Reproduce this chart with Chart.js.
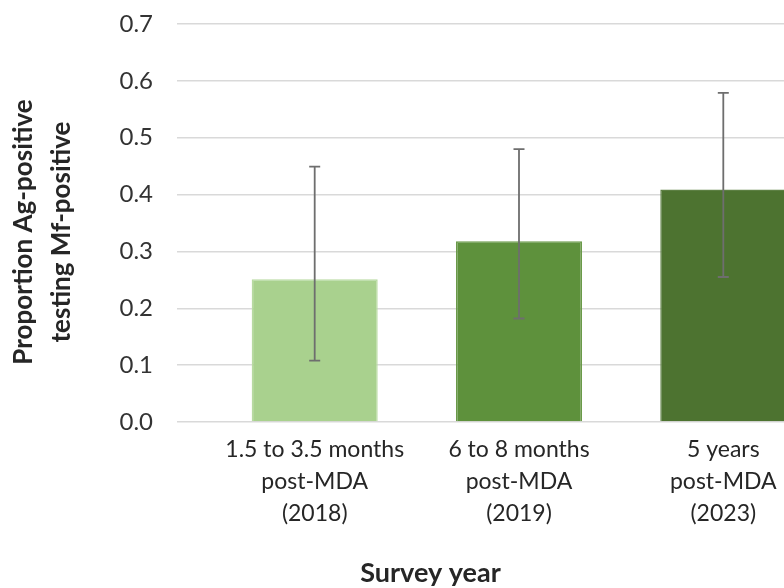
<!DOCTYPE html>
<html>
<head>
<meta charset="utf-8">
<script src="https://cdn.jsdelivr.net/npm/chart.js@4"></script>
<style>
  html, body { margin: 0; padding: 0; background: #ffffff; overflow: hidden; }
  #wrap { width: 930px; height: 588px; }
</style>
</head>
<body>
<div id="wrap"><canvas id="c" width="930" height="588"></canvas></div>
<script>
// Survey rounds and proportion of Ag-positive people who were Mf-positive
const categories = [
  ['1.5 to 3.5 months', 'post-MDA', '(2018)'],
  ['6 to 8 months', 'post-MDA', '(2019)'],
  ['5 years', 'post-MDA', '(2023)']
];
const proportion = [0.251, 0.318, 0.409];
const ciLower = [0.108, 0.182, 0.255];
const ciUpper = [0.449, 0.480, 0.579];
const yTicks = [0, 0.1, 0.2, 0.3, 0.4, 0.5, 0.6, 0.7];
const yTitle = ['Proportion Ag-positive', 'testing Mf-positive'];
const xTitle = 'Survey year';

const barColors = ['#A9D18E', '#5E913C', '#4D7330'];
const barEdges = ['#B8DAA2', '#6A9A49', '#5C7F42'];
const FONT = 'Lato, "Open Sans", sans-serif';

// Confidence-interval whiskers drawn on top of the bars
const errorBars = {
  id: 'errorBars',
  afterDatasetsDraw(chart) {
    const { ctx, scales: { x, y } } = chart;
    ctx.save();
    ctx.strokeStyle = '#6E6E6E';
    ctx.lineWidth = 1.8;
    const cap = 5.5;
    proportion.forEach((_, i) => {
      const px = x.getPixelForValue(i);
      const lo = y.getPixelForValue(ciLower[i]);
      const hi = y.getPixelForValue(ciUpper[i]);
      ctx.beginPath();
      ctx.moveTo(px, lo); ctx.lineTo(px, hi);
      ctx.moveTo(px - cap, lo); ctx.lineTo(px + cap, lo);
      ctx.moveTo(px - cap, hi); ctx.lineTo(px + cap, hi);
      ctx.stroke();
    });
    ctx.restore();
  }
};

// Two-line rotated y-axis title, sitting a little below the plot's middle
const yAxisTitle = {
  id: 'yAxisTitle',
  afterDraw(chart) {
    const { ctx, chartArea } = chart;
    const cy = (chartArea.top + chartArea.bottom) / 2 + 9;
    ctx.save();
    ctx.fillStyle = '#262626';
    ctx.font = 'bold 26px ' + FONT;
    ctx.textAlign = 'center';
    ctx.textBaseline = 'middle';
    yTitle.forEach((line, i) => {
      ctx.save();
      ctx.translate(24 + i * 38, cy);
      ctx.rotate(-Math.PI / 2);
      ctx.fillText(line, 0, 0);
      ctx.restore();
    });
    ctx.restore();
  }
};

new Chart(document.getElementById('c'), {
  type: 'bar',
  data: {
    datasets: [{
      data: proportion.map((v, i) => ({ x: i, y: v })),
      backgroundColor: barColors,
      borderColor: barEdges,
      borderWidth: 1.5,
      categoryPercentage: 0.617,
      barPercentage: 1.0
    }]
  },
  options: {
    responsive: false,
    devicePixelRatio: 1,
    animation: false,
    layout: { padding: { top: 24, right: 69, bottom: 0, left: 0 } },
    plugins: {
      legend: { display: false },
      tooltip: { enabled: false },
      title: {
        display: true,
        position: 'bottom',
        text: xTitle,
        color: '#262626',
        font: { family: FONT, size: 27, weight: 'bold', lineHeight: 1.1 },
        padding: { top: 0, bottom: 0 }
      }
    },
    scales: {
      x: {
        type: 'linear',
        min: -0.674,
        max: 2.674,
        offset: false,
        grid: { display: false, drawTicks: false },
        border: { display: false },
        afterBuildTicks(scale) {
          scale.ticks = categories.map((_, i) => ({ value: i }));
        },
        afterFit(scale) { scale.height = 136.3; },
        ticks: {
          autoSkip: false,
          maxRotation: 0,
          minRotation: 0,
          padding: 12,
          color: '#262626',
          font: { family: FONT, size: 23, lineHeight: 1.39 },
          callback: (v) => categories[v]
        }
      },
      y: {
        min: 0,
        max: 0.7,
        afterBuildTicks(scale) {
          scale.ticks = yTicks.map(v => ({ value: v }));
        },
        afterFit(scale) {
          scale.width = 177;
          scale.paddingTop = 0;
          scale.paddingBottom = 0;
        },
        grid: { color: '#D9D9D9', lineWidth: 1.5, drawTicks: false },
        border: { display: false },
        ticks: {
          padding: 24,
          color: '#333333',
          font: { family: FONT, size: 24 },
          callback: (v) => Number(v).toFixed(1)
        },
        title: { display: false }
      }
    }
  },
  plugins: [errorBars, yAxisTitle]
});
</script>
</body>
</html>
